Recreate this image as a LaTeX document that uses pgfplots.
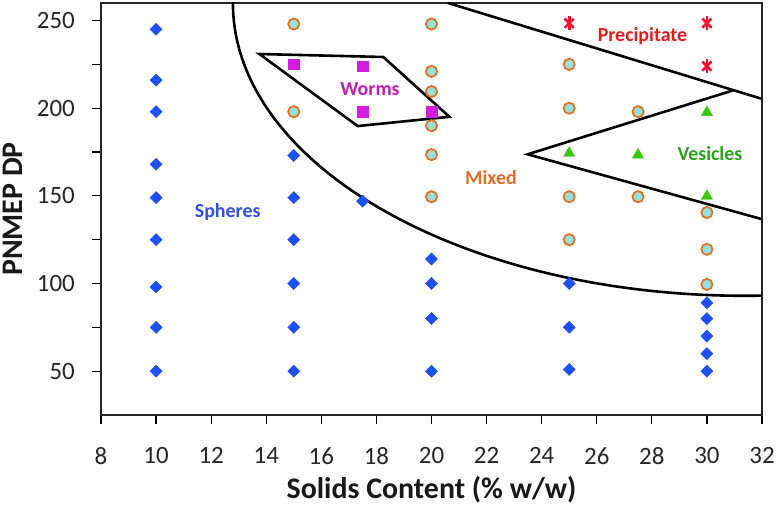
\documentclass[border=0pt]{standalone}
\usepackage{pgfplots}
\pgfplotsset{compat=1.18}
\usepackage{fontspec}
\setmainfont{Carlito}
\definecolor{sph}{RGB}{32,80,245}
\definecolor{mixedge}{RGB}{225,115,40}
\definecolor{mixfill}{RGB}{150,225,215}
\definecolor{worm}{RGB}{210,30,220}
\definecolor{prec}{RGB}{240,20,50}
\definecolor{ves}{RGB}{60,200,10}
\definecolor{sphtxt}{RGB}{50,80,225}
\definecolor{wormtxt}{RGB}{195,30,180}
\definecolor{mixtxt}{RGB}{225,110,40}
\definecolor{prectxt}{RGB}{225,30,30}
\definecolor{vestxt}{RGB}{45,160,30}
\begin{document}
\begin{tikzpicture}
\begin{axis}[
  name=main,
  scale only axis,
  width=661bp, height=412bp,
  xmin=8, xmax=32, ymin=25, ymax=260,
  xtick={8,10,...,32},
  ytick={50,100,...,250},
  minor ytick={75,125,175,225},
  tick align=outside,
  xtick pos=left, ytick pos=left,
  major tick length=9bp, minor tick length=9bp,
  every tick/.style={black, line width=1.2bp},
  axis line style={black!85, line width=1.4bp},
  /pgf/number format/assume math mode=true,
  tick label style={font=\fontsize{25}{30}\selectfont, text=black!85},
  xticklabel style={anchor=north, inner sep=0pt, yshift=-23bp},
  yticklabel style={anchor=east, inner sep=0pt, xshift=-17bp},
  xlabel={Solids Content (\% w/w)},
  ylabel={PNMEP DP},
  label style={font=\bfseries\fontsize{30}{36}\selectfont, text=black!90},
  xlabel style={at={(axis description cs:0.5,0)}, anchor=center, yshift=-75bp},
  ylabel style={at={(axis description cs:0,0.5)}, anchor=center, rotate=0, yshift=88bp},
  clip=true,
]
% region boundaries
\draw[line width=2.6bp] (axis cs:31.38,260) ellipse [x radius=18.59, y radius=167];
\draw[line width=2.6bp] (axis cs:13.75,230.9) -- (axis cs:18.25,229.2) -- (axis cs:20.65,195.1) -- (axis cs:17.32,189.8) -- cycle;
\draw[line width=2.6bp] (axis cs:20.6,260) -- (axis cs:32,205.3);
\draw[line width=2.6bp] (axis cs:30.96,210.2) -- (axis cs:23.49,173.7) -- (axis cs:32,136.7);
% spheres
\addplot[only marks, mark=square*, mark size=4.3bp, mark options={rotate=45, fill=sph, draw=sph}] coordinates {
(10,245) (10,216) (10,198) (10,168) (10,149) (10,125) (10,98) (10,75) (10,50)
(15,173) (15,149) (15,125) (15,100) (15,75) (15,50)
(17.5,147)
(20,114) (20,100) (20,80) (20,50)
(25,100) (25,75) (25,51)
(30,89) (30,80) (30,70) (30,60) (30,50)
};
% mixed
\addplot[only marks, mark=*, mark size=5.6bp, mark options={fill=mixfill, draw=mixedge, line width=1.8bp}] coordinates {
(15,248) (15,198)
(20,248) (20,221) (20,209.5) (20,190) (20,173.5) (20,149.5)
(25,225) (25,200) (25,149.5) (25,125)
(27.5,198) (27.5,149.5)
(30,140.5) (30,119.5) (30,99.5)
};
% worms
\addplot[only marks, mark=square*, mark size=5.2bp, mark options={fill=worm, draw=worm}] coordinates {
(15,225) (17.5,224) (17.5,198) (20,198)
};
% vesicles
\addplot[only marks, mark=triangle*, mark size=6.5bp, mark options={fill=ves, draw=ves}] coordinates {
(25,174.3) (27.5,173.4) (30,197.6) (30,149.8)
};
% precipitate
\addplot[only marks, mark=x, mark size=6.5bp, mark options={draw=prec, line width=2.6bp}] coordinates {
(25,248.5) (30,248.5) (30,224)
};
\addplot[only marks, mark=|, mark size=7bp, mark options={draw=prec, line width=2.6bp}] coordinates {
(25,248.5) (30,248.5) (30,224)
};
% region labels
\node[font=\bfseries\fontsize{20}{24}\selectfont, text=sphtxt] at (axis cs:12.6,140.9) {Spheres};
\node[font=\bfseries\fontsize{20}{24}\selectfont, text=wormtxt] at (axis cs:17.77,210.6) {Worms};
\node[font=\bfseries\fontsize{20}{24}\selectfont, text=mixtxt] at (axis cs:22.16,160.5) {Mixed};
\node[font=\bfseries\fontsize{20}{24}\selectfont, text=prectxt] at (axis cs:27.66,240.9) {Precipitate};
\node[font=\bfseries\fontsize{20}{24}\selectfont, text=vestxt] at (axis cs:30.11,174.1) {Vesicles};
\end{axis}
\pgfresetboundingbox
\useasboundingbox ([xshift=-101bp,yshift=-94bp]main.south west) rectangle ([xshift=15bp,yshift=3bp]main.north east);
\end{tikzpicture}
\end{document}
